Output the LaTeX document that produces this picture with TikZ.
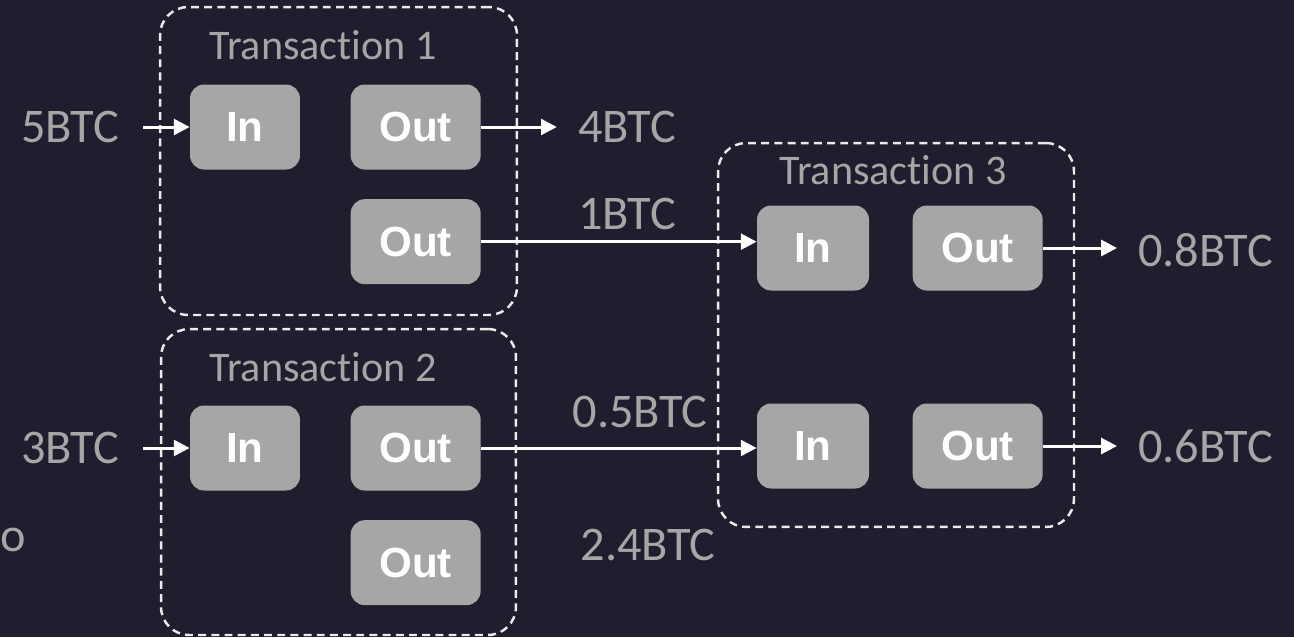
\documentclass[tikz,border=0pt]{standalone}
\usepackage{fontspec}
\setmainfont{Carlito}[Ligatures=NoCommon]
\newfontfamily\boxfont{Liberation Sans}
\usepackage{tikz}
\usetikzlibrary{arrows.meta, positioning}
\definecolor{bgnavy}{RGB}{31,29,46}
\definecolor{boxgray}{RGB}{166,166,166}

\begin{document}
\begin{tikzpicture}[
    x=0.02cm, y=-0.02cm,
    node distance=0.58cm and 1cm,
    port/.style={rounded corners=8pt, fill=boxgray, text=white, minimum height=1.7cm,
      font=\boxfont\bfseries\fontsize{24}{28}\selectfont},
    inport/.style={port, minimum width=2.2cm},
    outport/.style={port, minimum width=2.6cm},
    txbox/.style={draw=white!92!black, line width=1.4pt, dash pattern=on 4.5pt off 3pt,
      rounded corners=16pt, inner sep=0pt},
    txtitle/.style={text=boxgray, font=\fontsize{24}{28}\selectfont},
    amount/.style={text=boxgray, font=\fontsize{27.5}{32}\selectfont},
    flow/.style={draw=white, line width=1.7pt, -{Triangle[length=9pt, width=9pt]}},
    inflow/.style={flow, shorten <=0.36cm},
    outflow/.style={flow, shorten >=0.3cm}]
\useasboundingbox (0,0) rectangle (1294,637);
\fill[bgnavy] (0,0) rectangle (1294,637);

% transaction frames
\node[txbox, minimum width=7.14cm, minimum height=6.16cm] (tx1) at (338.5,161) {};
\node[txbox, minimum width=7.10cm, minimum height=6.12cm] (tx2) at (338.5,482) {};
\node[txbox, minimum width=7.12cm, minimum height=7.68cm] (tx3) at (896,335) {};
\node[txtitle] (tx1title) at (323,45) {Transaction 1};
\node[txtitle] (tx2title) at (323,367) {Transaction 2};
\node[txtitle] (tx3title) at (893,170) {Transaction 3};

% transaction 1
\node[inport] (t1in) at (245,127) {In};
\node[outport, right=of t1in] (t1outa) {Out};
\node[outport, below=of t1outa] (t1outb) {Out};

% transaction 2
\node[inport] (t2in) at (245,448) {In};
\node[outport, right=of t2in] (t2outa) {Out};
\node[outport, below=of t2outa] (t2outb) {Out};

% transaction 3
\node[inport, minimum width=2.24cm] (t3ina) at (813,248) {In};
\node[outport, right=0.86cm of t3ina] (t3outa) {Out};
\node[inport, minimum width=2.24cm] (t3inb) at (813,446) {In};
\node[outport, right=0.86cm of t3inb] (t3outb) {Out};

% amounts
\node[amount] (btc5) at (70,127) {5BTC};
\node[amount] (btc3) at (70,448) {3BTC};
\node[amount] (btc4) at (627,127) {4BTC};
\node[amount] (btc1) at (627,214) {1BTC};
\node[amount] (btc05) at (640,412) {0.5BTC};
\node[amount] (btc24) at (648,545) {2.4BTC};
\node[amount, anchor=west] (btc08) at (1132,250) {0.8BTC};
\node[amount, anchor=west] (btc06) at (1132,446) {0.6BTC};
\node[amount, anchor=base west, inner sep=0pt] (stray) at (0,551) {o};

\draw[inflow] (btc5) -- (t1in);
\draw[inflow] (btc3) -- (t2in);
\draw[outflow] (t1outa) -- (btc4);
\draw[flow] (t1outb.east) -- (t1outb.east -| t3ina.west);
\draw[flow] (t2outa.east) -- (t2outa.east -| t3inb.west);
\draw[outflow] (t3outa.east) -- (t3outa.east -| btc08.west);
\draw[outflow] (t3outb.east) -- (t3outb.east -| btc06.west);
\end{tikzpicture}
\end{document}
